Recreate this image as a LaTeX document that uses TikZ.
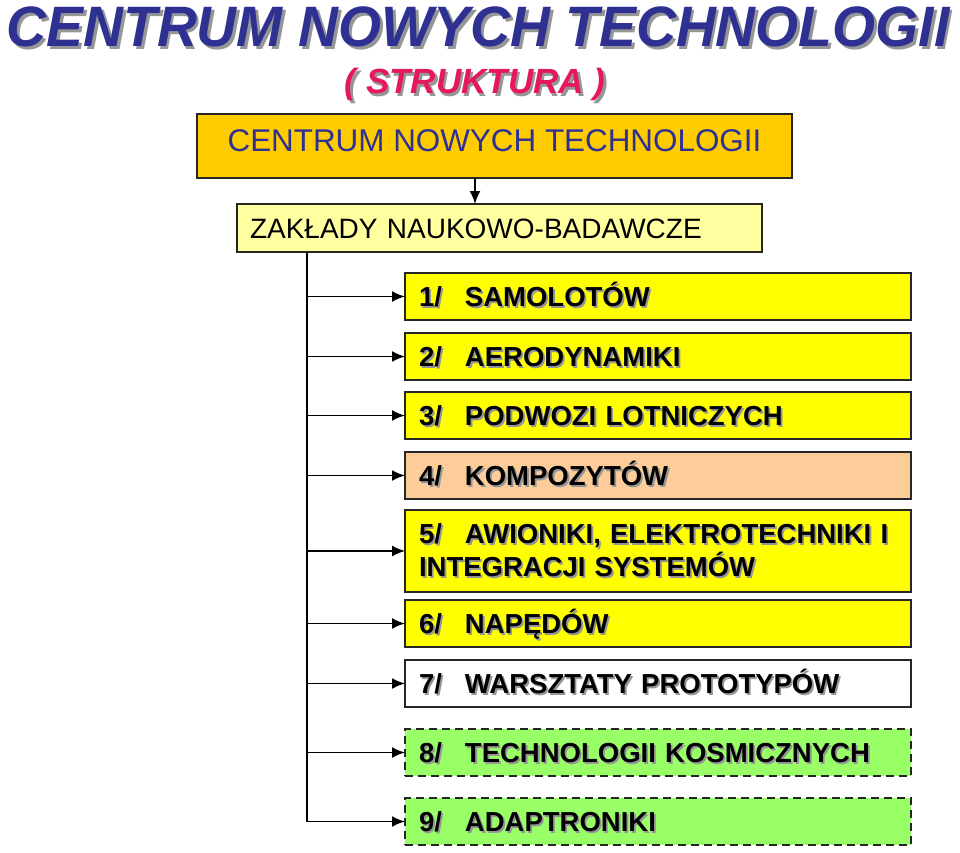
\documentclass[tikz,border=0pt]{standalone}
\usepackage{fontspec}
\setmainfont{Liberation Sans}
\usetikzlibrary{arrows.meta}

\definecolor{cntblue}{RGB}{46,49,146}
\definecolor{cntpink}{RGB}{230,23,92}
\definecolor{cntorange}{RGB}{255,204,0}
\definecolor{cntcream}{RGB}{255,255,160}
\definecolor{cntyellow}{RGB}{255,255,0}
\definecolor{cntpeach}{RGB}{252,204,153}
\definecolor{cntgreen}{RGB}{153,255,102}
\definecolor{cntshadow}{RGB}{150,150,150}

% text with a grey shadow below right
\newcommand{\shd}[2][1.8pt]{\makebox[0pt][l]{\kern#1\raisebox{-#1}{\color{cntshadow}#2}}#2}
\newcommand{\nr}[1]{\makebox[46pt][l]{#1}}

\tikzset{
  zbox/.style={rectangle, draw=black!85, line width=2pt, outer sep=0pt, anchor=north west,
    minimum width=506pt, inner xsep=14pt, text width=478pt, align=left,
    font=\fontsize{27.5pt}{33pt}\selectfont\bfseries},
  zone/.style={zbox, minimum height=47pt, text height=24pt, text depth=4pt},
  plan/.style={dash pattern=on 8pt off 5pt},
  branch/.style={-{Latex[length=13pt,width=11pt]}, line width=1.8pt},
}

\begin{document}
\begin{tikzpicture}[x=1pt,y=-1pt]
\useasboundingbox (0,0) rectangle (960,853);

%---------------------------------------------------
\node[anchor=base, text=cntblue, font=\fontsize{57pt}{60pt}\selectfont\bfseries\itshape] (title) at (478,47)
  {\scalebox{0.97}[1]{\shd[3pt]{CENTRUM NOWYCH TECHNOLOGII}}};
\node[anchor=base, text=cntpink, font=\fontsize{35pt}{40pt}\selectfont\bfseries\itshape] (sub) at (475,94)
  {\shd[2.5pt]{( STRUKTURA )}};

%---------------------------------------------------
\node[rectangle, draw=black!85, line width=2pt, outer sep=0pt, anchor=north west, fill=cntorange,
  minimum width=595pt, minimum height=64pt, text height=24pt, text depth=12.5pt,
  text=cntblue, font=\fontsize{31.4pt}{36pt}\selectfont] (cnt) at (197,114) {CENTRUM NOWYCH TECHNOLOGII};
\node[rectangle, draw=black!85, line width=2pt, outer sep=0pt, anchor=north west, fill=cntcream,
  minimum width=525pt, minimum height=48pt, inner xsep=13pt, text width=499pt, align=left,
  text height=24pt, text depth=4pt, font=\fontsize{28pt}{33pt}\selectfont] (zb) at (237,204) {ZAKŁADY NAUKOWO-BADAWCZE};

%---------------------------------------------------
\node[zone, fill=cntyellow] (z1) at (405,273) {\shd{\nr{1/}SAMOLOTÓW}};
\node[zone, fill=cntyellow] (z2) at (405,333) {\shd{\nr{2/}AERODYNAMIKI}};
\node[zone, fill=cntyellow] (z3) at (405,392) {\shd{\nr{3/}PODWOZI LOTNICZYCH}};
\node[zone, fill=cntpeach]  (z4) at (405,452) {\shd{\nr{4/}KOMPOZYTÓW}};
\node[zbox, fill=cntyellow, minimum height=82pt] (z5) at (405,510)
  {\shd{\nr{5/}AWIONIKI, ELEKTROTECHNIKI I}\\\shd{INTEGRACJI SYSTEMÓW}};
\node[zone, fill=cntyellow] (z6) at (405,600) {\shd{\nr{6/}NAPĘDÓW}};
\node[zone, fill=white]     (z7) at (405,660) {\shd{\nr{7/}WARSZTATY PROTOTYPÓW}};
\node[zone, plan, fill=cntgreen] (z8) at (405,729) {\shd{\nr{8/}TECHNOLOGII KOSMICZNYCH}};
\node[zone, plan, fill=cntgreen] (z9) at (405,798) {\shd{\nr{9/}ADAPTRONIKI}};

%---------------------------------------------------
\coordinate (drop) at (475,178);
\coordinate (spine) at (307,822);
\draw[branch] (cnt.south -| drop) -- (zb.north -| drop);
\draw[line width=1.8pt] (zb.south -| spine) -- (z9.west -| spine);
\foreach \i in {1,...,9}
  \draw[branch] (z\i.west -| spine) -- (z\i.west);
\end{tikzpicture}
\end{document}
